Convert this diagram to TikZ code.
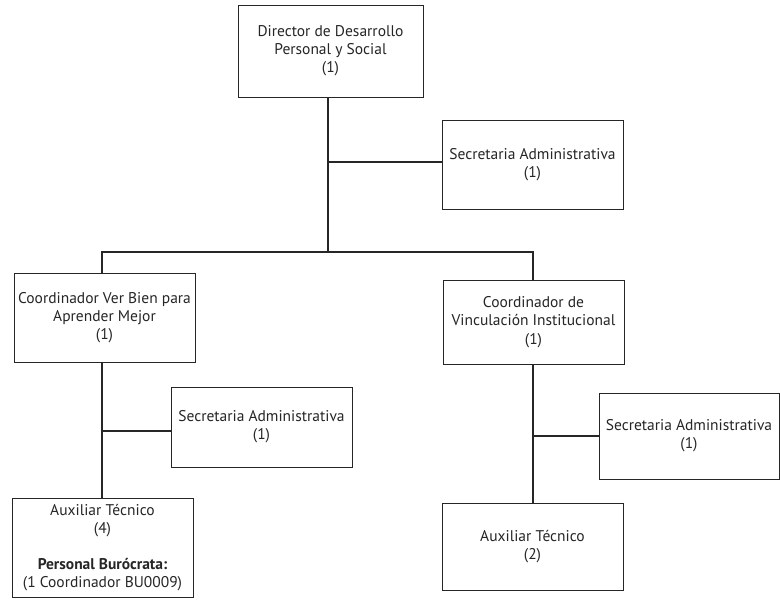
\documentclass[tikz,border=0pt]{standalone}
\usepackage{fontspec}
\setmainfont{PT Sans}
\begin{document}
\begin{tikzpicture}[x=1pt,y=-1pt,
  box/.style={draw=black!85,line width=0.9pt,fill=white,align=center,inner sep=0pt,
    font=\fontsize{15.5}{18.2}\selectfont,text=black!85},
  link/.style={draw=black!85,line width=1.7pt}]
\useasboundingbox (0,0) rectangle (780,600);
\node[box,minimum width=185,minimum height=92] (dir) at (330.5,51) {Director de Desarrollo\\Personal y Social\\(1)};
\node[box,minimum width=181,minimum height=89] (sec1) at (532.5,164.5) {Secretaria Administrativa\\(1)};
\node[box,minimum width=181,minimum height=89] (c1) at (104.5,317.5) {Coordinador Ver Bien para\\Aprender Mejor\\(1)};
\node[box,minimum width=181,minimum height=84] (c2) at (533.5,322) {Coordinador de\\Vinculación Institucional\\(1)};
\node[box,minimum width=181,minimum height=80] (sec2) at (261.5,427) {Secretaria Administrativa\\(1)};
\node[box,minimum width=181,minimum height=99] (aux1) at (102.5,547.5) {Auxiliar Técnico\\(4)\\[18pt]\textbf{Personal Burócrata:}\\(1 Coordinador BU0009)};
\node[box,minimum width=180,minimum height=86] (sec3) at (689,436) {Secretaria Administrativa\\(1)};
\node[box,minimum width=181,minimum height=87] (aux2) at (532.5,546.5) {Auxiliar Técnico\\(2)};
\coordinate (bus) at (328,252);
\coordinate (j1) at (328,162);
\coordinate (j2) at (102,431);
\coordinate (j3) at (533,436);
\draw[link] (dir.south -| bus) -- (bus);
\draw[link] (j1) -- (j1 -| sec1.west);
\draw[link] (c1.north -| j2) |- (bus) -| (c2.north -| j3);
\draw[link] (c1.south -| j2) -- (aux1.north -| j2);
\draw[link] (j2) -- (j2 -| sec2.west);
\draw[link] (c2.south -| j3) -- (aux2.north -| j3);
\draw[link] (j3) -- (j3 -| sec3.west);
\end{tikzpicture}
\end{document}
